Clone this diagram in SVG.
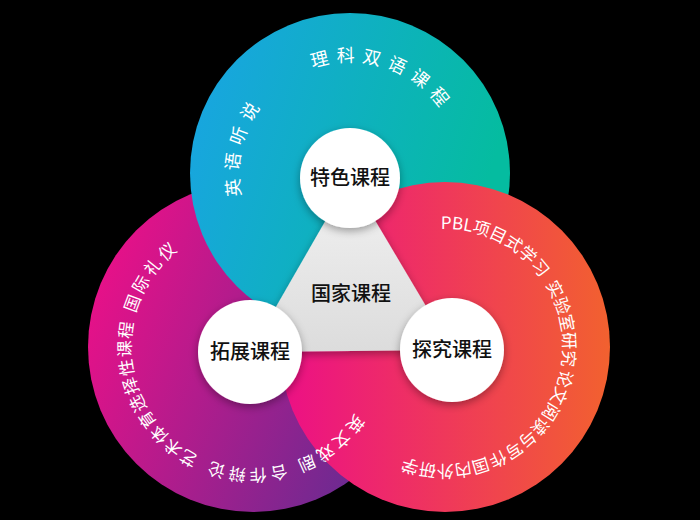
<svg xmlns="http://www.w3.org/2000/svg" width="700" height="520" viewBox="0 0 700 520">
<style>
.lbl{font-family:"Noto Sans CJK SC","Noto Sans",sans-serif;fill:#fff;font-size:17px;letter-spacing:3px}
.node{font-family:"Noto Sans CJK SC",sans-serif;fill:#111;font-size:20px;text-anchor:middle;font-weight:500}
</style>
<defs>
<linearGradient id="gT" x1="0" y1="0" x2="1" y2="0.3"><stop offset="0" stop-color="#1aa3e6"/><stop offset="1" stop-color="#05bca0"/></linearGradient>
<linearGradient id="gL" x1="0" y1="0.3" x2="1" y2="0.7"><stop offset="0" stop-color="#ea1088"/><stop offset="1" stop-color="#5f2d92"/></linearGradient>
<linearGradient id="gR" x1="0" y1="0" x2="1" y2="0"><stop offset="0" stop-color="#ec0f86"/><stop offset="1" stop-color="#f2612f"/></linearGradient>
<linearGradient id="gG" x1="0" y1="0" x2="0" y2="1"><stop offset="0" stop-color="#f2f2f2"/><stop offset="1" stop-color="#dcdcdc"/></linearGradient>
<filter id="sh" x="-30%" y="-30%" width="160%" height="160%"><feDropShadow dx="0" dy="3" stdDeviation="4" flood-color="#000" flood-opacity="0.35"/></filter>
<path id="pT" d="M350,284 A111,111 0 1 1 350,62 A111,111 0 1 1 350,284"/>
<path id="pL" d="M375,347 A122,122 0 1 1 131,347 A122,122 0 1 1 375,347"/>
<path id="pR" d="M327,347 A118,118 0 1 1 563,347 A118,118 0 1 1 327,347"/>
</defs>
<rect width="700" height="520" fill="#000"/>
<g id="left"><circle cx="253" cy="347" r="165" fill="url(#gL)"/></g>
<g id="top"><circle cx="350" cy="173" r="160" fill="url(#gT)"/></g>
<g id="right"><circle cx="445" cy="347" r="165" fill="url(#gR)"/></g>
<g id="connectors"><polygon points="350,178 250,352 452,350" fill="url(#gG)" filter="url(#sh)"/></g>
<g id="center"><text x="351" y="301" class="node" font-size="27">国家课程</text></g>
<g id="n-top"><circle cx="350" cy="178" r="50" fill="#fff" filter="url(#sh)"/><text x="350" y="185" class="node">特色课程</text></g>
<g id="n-left"><circle cx="250" cy="352" r="52" fill="#fff" filter="url(#sh)"/><text x="250" y="359" class="node">拓展课程</text></g>
<g id="n-right"><circle cx="452" cy="350" r="52" fill="#fff" filter="url(#sh)"/><text x="452" y="357" class="node">探究课程</text></g>
<g id="labels-top" class="lbl" style="font-size:18px;letter-spacing:7px">
<text class="lbl" style="font-size:18px;letter-spacing:7px"><textPath href="#pT" startOffset="151">英语听说</textPath></text>
<text class="lbl" style="font-size:18px;letter-spacing:7px"><textPath href="#pT" startOffset="310">理科双语课程</textPath></text>
</g>
<g id="labels-left">
<text class="lbl"><textPath href="#pL" startOffset="70">英文戏剧</textPath></text>
<text class="lbl"><textPath href="#pL" startOffset="158">合作辩论</textPath></text>
<text class="lbl" style="letter-spacing:1px"><textPath href="#pL" startOffset="247">艺术体育选择性课程</textPath></text>
<text class="lbl"><textPath href="#pL" startOffset="417">国际礼仪</textPath></text>
</g>
<g id="labels-right">
<text class="lbl" style="letter-spacing:0px"><textPath href="#pR" startOffset="181">PBL项目式学习</textPath></text>
<text class="lbl" style="letter-spacing:0px"><textPath href="#pR" startOffset="305">实验室研究</textPath></text>
<text class="lbl" style="letter-spacing:0px"><textPath href="#pR" startOffset="393">论文阅读与写作</textPath></text>
<text class="lbl" style="letter-spacing:0px"><textPath href="#pR" startOffset="513">国内外研学</textPath></text>
</g>
</svg>
